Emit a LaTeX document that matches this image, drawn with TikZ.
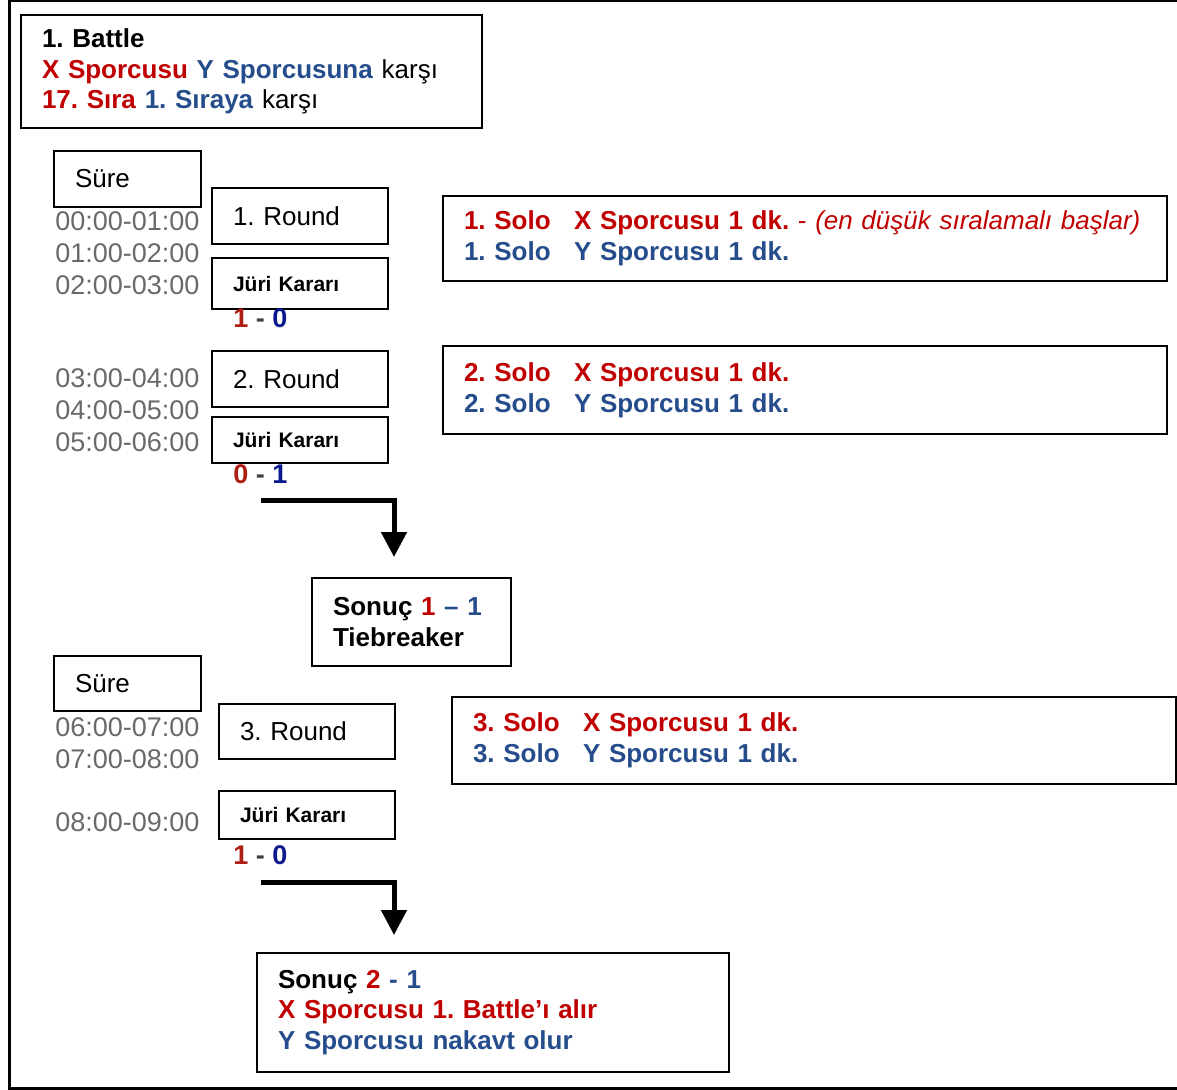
\documentclass[tikz,border=0pt]{standalone}
\usepackage{fontspec}
\setmainfont{Liberation Sans}
\usetikzlibrary{arrows.meta}
\definecolor{kirmizi}{RGB}{192,0,0}
\definecolor{mavi}{RGB}{37,77,140}
\definecolor{skkirmizi}{RGB}{175,30,20}
\definecolor{sklacivert}{RGB}{10,25,140}
\definecolor{suregri}{RGB}{105,105,105}
\tikzset{
  kutu/.style={draw, line width=1pt, anchor=north west, inner xsep=10.5pt, inner ysep=0pt, align=left, font=\fontsize{13}{15.3}\selectfont},
  kalin/.style={kutu, font=\bfseries\fontsize{13}{15.3}\selectfont},
  juri/.style={kutu, font=\bfseries\fontsize{10.5}{12}\selectfont},
  saat/.style={anchor=west, inner sep=0pt, text=suregri, font=\fontsize{13.5}{16}\selectfont},
  skor/.style={anchor=west, inner sep=0pt, font=\bfseries\fontsize{13.5}{16}\selectfont},
  ok/.style={line width=2.5pt, -{Triangle[width=12.5pt,length=12.5pt]}},
}
\newcommand{\solo}[1]{\makebox[55pt][l]{\textbf{#1}}}
\frenchspacing
\begin{document}
\frenchspacing
\begin{tikzpicture}[x=0.5pt,y=-0.5pt]
      \useasboundingbox (0,0) rectangle (1177,1090);
      \draw[line width=1.5pt] (1177,1) -- (9,1) -- (9,1088) -- (1177,1088);

      \node[kutu, text width=209.5pt, minimum height=56.5pt] (battle) at (20,14) {\textbf{1. Battle}\\\textcolor{kirmizi}{\textbf{X Sporcusu}} \textcolor{mavi}{\textbf{Y Sporcusuna}} karşı\\\textcolor{kirmizi}{\textbf{17. Sıra}} \textcolor{mavi}{\textbf{1. Sıraya}} karşı};

      \node[kutu, text width=52.5pt, minimum height=28pt] (sure1) at (53,150) {Süre};
      \node[saat] (s1) at (55,221) {00:00-01:00};
      \node[saat] (s2) at (55,253) {01:00-02:00};
      \node[saat] (s3) at (55,285) {02:00-03:00};
      \node[kutu, text width=67pt, minimum height=28pt] (round1) at (211,187) {1. Round};
      \node[juri, text width=67pt, minimum height=25.5pt] (juri1) at (211,257) {Jüri Kararı};
      \node[skor] (skor1) at (233,318) {\textcolor{skkirmizi}{1} \textcolor{darkgray}{-} \textcolor{sklacivert}{0}};
      \node[kutu, text width=341pt, minimum height=42.5pt] (solo1) at (442,195) {\textcolor{kirmizi}{\solo{1. Solo}\textbf{X Sporcusu 1 dk.} - \textit{(en düşük sıralamalı başlar)}}\\\textcolor{mavi}{\solo{1. Solo}\textbf{Y Sporcusu 1 dk.}}};

      \node[saat] (s4) at (55,378) {03:00-04:00};
      \node[saat] (s5) at (55,410) {04:00-05:00};
      \node[saat] (s6) at (55,442) {05:00-06:00};
      \node[kutu, text width=67pt, minimum height=28pt] (round2) at (211,350) {2. Round};
      \node[juri, text width=67pt, minimum height=23pt] (juri2) at (211,416) {Jüri Kararı};
      \node[skor] (skor2) at (233,474) {\textcolor{skkirmizi}{0} \textcolor{darkgray}{-} \textcolor{sklacivert}{1}};
      \node[kutu, text width=341pt, minimum height=44pt] (solo2) at (442,345) {\textcolor{kirmizi}{\solo{2. Solo}\textbf{X Sporcusu 1 dk.}}\\\textcolor{mavi}{\solo{2. Solo}\textbf{Y Sporcusu 1 dk.}}};

      \node[kalin, text width=78.5pt, minimum height=44pt] (sonuc1) at (311,577) {Sonuç \textcolor{kirmizi}{1} \textcolor{mavi}{– 1}\\Tiebreaker};
      \coordinate (ok1bas) at (261,501);
      \draw[ok] (ok1bas) -| ([xshift=-8.75pt,yshift=10pt]sonuc1.north);

      \node[kutu, text width=52.5pt, minimum height=27.5pt] (sure2) at (53,655) {Süre};
      \node[saat] (s7) at (55,727) {06:00-07:00};
      \node[saat] (s8) at (55,759) {07:00-08:00};
      \node[saat] (s9) at (55,822) {08:00-09:00};
      \node[kutu, text width=67pt, minimum height=27.5pt] (round3) at (218,703) {3. Round};
      \node[juri, text width=67pt, minimum height=24pt] (juri3) at (218,790) {Jüri Kararı};
      \node[skor] (skor3) at (233,855) {\textcolor{skkirmizi}{1} \textcolor{darkgray}{-} \textcolor{sklacivert}{0}};
      \node[kutu, text width=341pt, minimum height=43.5pt] (solo3) at (451,696) {\textcolor{kirmizi}{\solo{3. Solo}\textbf{X Sporcusu 1 dk.}}\\\textcolor{mavi}{\solo{3. Solo}\textbf{Y Sporcusu 1 dk.}}};

      \node[kalin, text width=215pt, minimum height=59.5pt] (sonuc2) at (256,952) {Sonuç \textcolor{kirmizi}{2} \textcolor{mavi}{- 1}\\\textcolor{kirmizi}{X Sporcusu 1. Battle’ı alır}\\\textcolor{mavi}{Y Sporcusu nakavt olur}};
      \coordinate (ok2bas) at (261,882);
      \draw[ok] (ok2bas) -| ([xshift=-49.5pt,yshift=8.5pt]sonuc2.north);
\end{tikzpicture}
\end{document}
